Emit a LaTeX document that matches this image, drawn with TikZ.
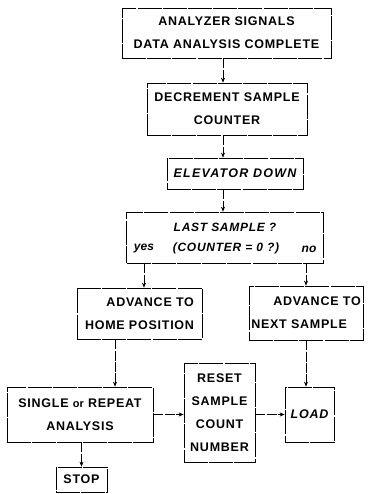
\documentclass[tikz,border=0pt]{standalone}
\usepackage{fontspec}
\setmainfont{Liberation Sans}
\usetikzlibrary{arrows.meta}
\begin{document}
\begin{tikzpicture}[x=1pt,y=-1pt,
  box/.style={draw, line width=0.7pt, dash pattern=on 24pt off 1.2pt, inner sep=0pt, align=center,
    font=\fontsize{12.5}{23}\selectfont\bfseries\addfontfeature{LetterSpace=6}},
  lab/.style={inner sep=0pt, font=\fontsize{12}{14}\selectfont\bfseries\itshape\addfontfeature{LetterSpace=6}},
  arr/.style={line width=0.7pt, dash pattern=on 10pt off 1.2pt, -{Stealth[length=5pt,width=4pt]}}]
\useasboundingbox (0,0) rectangle (372,494);
\node[box, minimum width=209, minimum height=50] (b1) at (226.5,33) {ANALYZER SIGNALS\\DATA ANALYSIS COMPLETE};
\node[box, minimum width=160, minimum height=52] (b2) at (227,109) {DECREMENT SAMPLE\\COUNTER};
\node[box, minimum width=136, minimum height=31, font=\fontsize{12.5}{23}\selectfont\bfseries\itshape\addfontfeature{LetterSpace=10}] (b3) at (235,173.5) {ELEVATOR DOWN};
\node[box, minimum width=197, minimum height=51] (b4) at (225,237.5) {};
\node[lab] (t4a) at (225,227) {LAST SAMPLE ?};
\node[lab] (t4b) at (226,248) {(COUNTER = 0 ?)};
\node[lab, font=\fontsize{12}{14}\selectfont\bfseries\itshape] (tyes) at (144,249) {yes};
\node[lab, font=\fontsize{12}{14}\selectfont\bfseries\itshape] (tno) at (309,249) {no};
\node[box, minimum width=125, minimum height=51, align=right] (b5) at (139.5,313.5) {ADVANCE TO\\HOME POSITION};
\node[box, minimum width=114, minimum height=54, align=left] (b6) at (306,313) {\hspace*{22pt}ADVANCE TO\\NEXT SAMPLE};
\node[box, minimum width=146, minimum height=55] (b7) at (80,414.5) {SINGLE {\normalfont\bfseries\fontsize{11}{23}\selectfont or} REPEAT\\ANALYSIS};
\node[box, minimum width=71, minimum height=99] (b8) at (219.5,412.5) {RESET\\SAMPLE\\COUNT\\NUMBER};
\node[box, minimum width=49, minimum height=55, font=\fontsize{12.5}{23}\selectfont\bfseries\itshape\addfontfeature{LetterSpace=6}] (b9) at (309.5,414.5) {LOAD};
\node[box, minimum width=51, minimum height=25] (b10) at (81.5,479.5) {STOP};
\coordinate (x223) at (223,0);
\coordinate (x144) at (144,0);
\coordinate (x115) at (115,0);
\draw[arr] (b1.south -| x223) -- (b2.north -| x223);
\draw[arr] (b2.south -| x223) -- (b3.north -| x223);
\draw[arr] (b3.south -| x223) -- (b4.north -| x223);
\draw[arr] (b4.south -| x144) -- (b5.north -| x144);
\draw[arr] (b4.south -| b6.north) -- (b6.north);
\draw[arr] (b6.south) -- (b6.south |- b9.north);
\draw[arr] (b5.south -| x115) -- (b7.north -| x115);
\draw[arr] (b7.east) -- (b7.east -| b8.west);
\draw[arr] (b8.east |- b9.west) -- (b9.west);
\draw[arr] (b7.south -| b10.north) -- (b10.north);
\end{tikzpicture}
\end{document}
